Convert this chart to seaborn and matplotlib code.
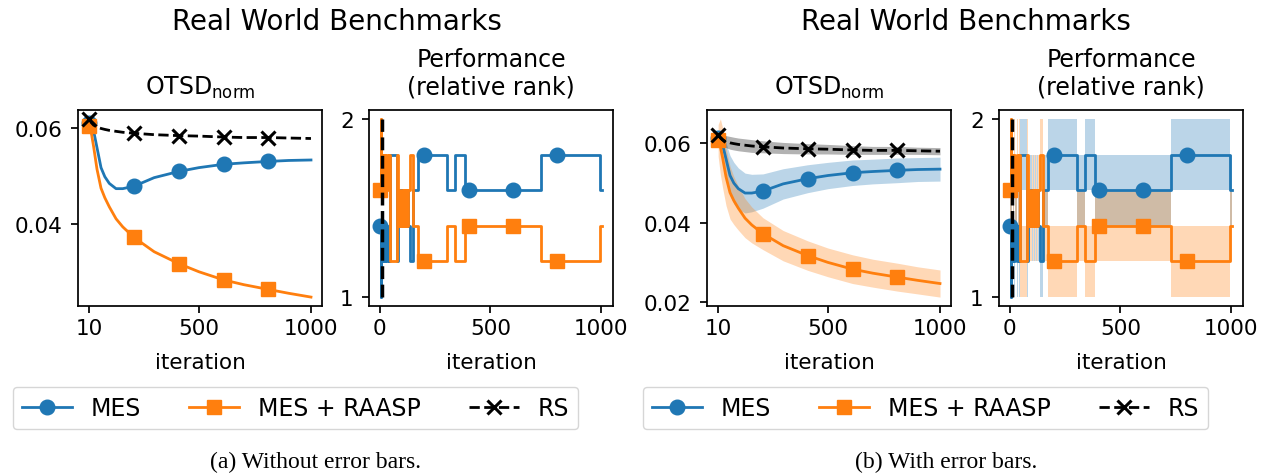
import matplotlib
matplotlib.use("Agg")
import matplotlib.pyplot as plt
import seaborn as sns
import numpy as np

# ---- data ----
# OTSD_norm (mean over real world benchmarks)
otsd_iter = [10, 20, 30, 45, 63, 80, 100, 130, 160, 210, 300, 410, 500, 610, 700, 810, 900, 1000]
otsd_marks = [0, 9, 11, 13, 15]  # marker at 10, 210, 410, 610, 810
mes_otsd = [0.0612, 0.0608, 0.0595, 0.0560, 0.0518, 0.0499, 0.0485, 0.0474, 0.0474, 0.0479,
            0.0497, 0.0510, 0.0518, 0.0525, 0.0528, 0.0531, 0.0533, 0.0534]
raasp_otsd = [0.0606, 0.0590, 0.0562, 0.0515, 0.0475, 0.0455, 0.0436, 0.0411, 0.0394, 0.0372,
              0.0342, 0.0317, 0.0300, 0.0283, 0.0273, 0.0263, 0.0255, 0.0247]
rs_otsd = [0.0620, 0.0612, 0.0607, 0.0603, 0.0600, 0.0598, 0.0596, 0.0594, 0.0592, 0.0590,
           0.0587, 0.0585, 0.0584, 0.0582, 0.0581, 0.0581, 0.0580, 0.0579]
mes_otsd_err = [0.0010, 0.0015, 0.0025, 0.0040, 0.0050, 0.0052, 0.0052, 0.0050, 0.0047, 0.0043,
                0.0038, 0.0035, 0.0033, 0.0032, 0.0031, 0.0031, 0.0030, 0.0030]
raasp_otsd_err = [0.0040, 0.0070, 0.0075, 0.0072, 0.0066, 0.0060, 0.0055, 0.0049, 0.0045, 0.0040,
                  0.0038, 0.0037, 0.0036, 0.0036, 0.0035, 0.0035, 0.0034, 0.0034]
rs_otsd_err = [0.0012, 0.0013, 0.0014, 0.0015, 0.0016, 0.0016, 0.0016, 0.0016, 0.0016, 0.0015,
               0.0014, 0.0013, 0.0012, 0.0011, 0.0010, 0.0010, 0.0009, 0.0009]

# relative rank (step changes)
rank_iter = [1, 3, 6, 10, 15, 20, 25, 30, 35, 40, 45, 76, 83, 88, 93, 98, 103, 108, 113, 118,
             123, 128, 136, 152, 172, 201, 304, 338, 384, 401, 601, 728, 801, 995, 1004]
rank_marks = [0, 25, 29, 30, 32]  # marker at 1, 201, 401, 601, 801
mes_rank = [1.4, 1.0, 1.4, 1.2, 1.4, 1.2, 1.4, 1.2, 1.4, 1.2, 1.8, 1.2, 1.6, 1.4, 1.6, 1.4, 1.6,
            1.4, 1.6, 1.4, 1.6, 1.4, 1.2, 1.6, 1.8, 1.8, 1.6, 1.8, 1.6, 1.6, 1.6, 1.8, 1.8, 1.6, 1.6]
raasp_rank = [1.6, 2.0, 1.6, 1.8, 1.6, 1.8, 1.6, 1.8, 1.6, 1.8, 1.2, 1.8, 1.4, 1.6, 1.4, 1.6, 1.4,
              1.6, 1.4, 1.6, 1.4, 1.6, 1.8, 1.4, 1.2, 1.2, 1.4, 1.2, 1.4, 1.4, 1.4, 1.2, 1.2, 1.4, 1.4]
rank_err = 0.2
rs_rank_iter = [8, 8]
rs_rank = [1.0, 2.0]

BLUE, ORANGE, BLACK = "#1f77b4", "#ff7f0e", "black"

plt.rcParams.update({
    "font.size": 15.5,
    "axes.linewidth": 1.25,
    "axes.titlesize": 17,
    "axes.titlepad": 12,
    "axes.labelpad": 10,
    "xtick.major.size": 5, "ytick.major.size": 5,
    "xtick.major.width": 1.25, "ytick.major.width": 1.25,
    "xtick.major.pad": 4, "ytick.major.pad": 6,
})

fig = plt.figure(figsize=(12.71, 4.77), dpi=100)
bot, h, w = 0.3564, 0.4109, 0.192
lefts = [0.0614, 0.2903, 0.5563, 0.7860]
axes = [fig.add_axes([l, bot, w, h]) for l in lefts]

series = [
    ("MES", BLUE, "o", "-", 10.5, 1),
    ("MES + RAASP", ORANGE, "s", "-", 10.5, 1),
    ("RS", BLACK, "x", "--", 10, 2.2),
]


def draw_otsd(ax, with_err):
    vals = [mes_otsd, raasp_otsd, rs_otsd]
    errs = [mes_otsd_err, raasp_otsd_err, rs_otsd_err]
    if with_err:
        for v, e, s in zip(vals, errs, series):
            v, e = np.array(v), np.array(e)
            ax.fill_between(otsd_iter, v - e, v + e, color=s[1], alpha=0.3, linewidth=0)
    for v, (lab, c, m, ls, ms, mew) in zip(vals, series):
        sns.lineplot(x=otsd_iter, y=v, ax=ax, color=c, marker=m, markevery=otsd_marks,
                     markersize=ms, mec=c, mew=mew, linestyle=ls, linewidth=2,
                     label=lab, estimator=None, sort=False, legend=False)
    ax.set_xticks([10, 500, 1000])
    ax.set_title(r"OTSD$_{\mathrm{norm}}$")
    ax.set_xlabel("iteration")
    ax.set_ylabel("")


def draw_rank(ax, with_err):
    vals = [mes_rank, raasp_rank]
    if with_err:
        for v, s in zip(vals, series):
            v = np.array(v)
            ax.fill_between(rank_iter, np.clip(v - rank_err, 1, 2), np.clip(v + rank_err, 1, 2),
                            step="post", color=s[1], alpha=0.3, linewidth=0)
    for v, (lab, c, m, ls, ms, mew) in zip(vals, series[:2]):
        sns.lineplot(x=rank_iter, y=v, ax=ax, color=c, marker=m, markevery=rank_marks,
                     markersize=ms, mec=c, mew=mew, linewidth=2, drawstyle="steps-post",
                     estimator=None, sort=False, legend=False)
    sns.lineplot(x=rs_rank_iter, y=rs_rank, ax=ax, color=BLACK, linestyle="--", linewidth=2.5,
                 estimator=None, sort=False, legend=False)
    ax.set_xticks([0, 500, 1000])
    ax.set_yticks([1, 2])
    ax.set_ylim(0.95, 2.05)
    ax.set_title("Performance\n(relative rank)")
    ax.set_xlabel("iteration")
    ax.set_ylabel("")


draw_otsd(axes[0], False)
draw_rank(axes[1], False)
draw_otsd(axes[2], True)
axes[2].set_yticks([0.02, 0.04, 0.06])
axes[0].set_yticks([0.04, 0.06])
draw_rank(axes[3], True)

handles, labels = axes[0].get_legend_handles_labels()
for cx, sx, cap in [(0.2325, 0.2651, "(a) Without error bars."),
                    (0.7282, 0.7600, "(b) With error bars.")]:
    fig.legend(handles, labels, loc="center", bbox_to_anchor=(cx, 0.1426), ncol=3,
               fontsize=17, handlelength=2.1, columnspacing=2.05, handletextpad=0.8)
    fig.text(sx, 0.954, "Real World Benchmarks", ha="center", va="center", fontsize=20)
    fig.text(cx + 0.016, 0.0314, cap, ha="center", va="center", fontsize=17,
             family="Liberation Serif")

fig.savefig("out.png", dpi=100)
